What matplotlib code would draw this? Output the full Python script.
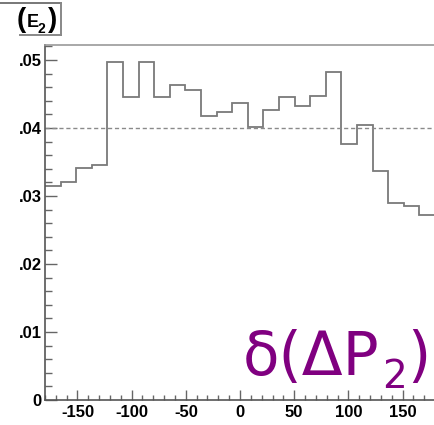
import numpy as np
import matplotlib
matplotlib.use("Agg")
import matplotlib.pyplot as plt
from matplotlib.lines import Line2D
from matplotlib.ticker import MultipleLocator, FuncFormatter

plt.rcParams["axes.unicode_minus"] = False

# Histogram contents: 25 bins spanning -180 .. 180
bin_lo, bin_hi, n_bins = -180.0, 180.0, 25
counts = [0.0314, 0.0320, 0.0341, 0.0345, 0.0497, 0.0445, 0.0497, 0.0446,
          0.0463, 0.0456, 0.0418, 0.0423, 0.0437, 0.0402, 0.0427, 0.0445,
          0.0433, 0.0447, 0.0482, 0.0376, 0.0405, 0.0336, 0.0290, 0.0285,
          0.0272]
reference_level = 0.04
y_ticks = [0.0, 0.01, 0.02, 0.03, 0.04, 0.05]
x_ticks = [-150, -100, -50, 0, 50, 100, 150]

W, H = 435, 425
fig = plt.figure(figsize=(W / 100, H / 100), dpi=100)
fig.patch.set_facecolor("white")

# axes frame in pixel units
x0, x1, y_top, y_bot = 45, 435, 45, 400
ax = fig.add_axes([x0 / W, (H - y_bot) / H, (x1 - x0) / W, (y_bot - y_top) / H])

edges = np.linspace(bin_lo, bin_hi, n_bins + 1)
ax.stairs(counts, edges, color="#7a7a7a", linewidth=1.3, baseline=None)
ax.axhline(reference_level, color="#8a8a8a", linewidth=1.0, linestyle=(0, (3, 2)))

ax.set_xlim(bin_lo, bin_hi)
ax.set_ylim(0, 0.0522)

ax.set_yticks(y_ticks)
ax.set_xticks(x_ticks)
ax.yaxis.set_minor_locator(MultipleLocator(0.002))
ax.xaxis.set_minor_locator(MultipleLocator(10))

def fmt_y(v, pos):
    if abs(v) < 1e-12:
        return "0"
    return ("%.2f" % v).lstrip("0")

ax.yaxis.set_major_formatter(FuncFormatter(fmt_y))

for lab in ax.get_xticklabels() + ax.get_yticklabels():
    lab.set_fontfamily("Liberation Sans")
    lab.set_fontweight("bold")
    lab.set_fontsize(12)

ax.tick_params(axis="y", which="major", direction="in", length=8.5, width=1.0,
               color="#666666", pad=2.6, left=True, right=False)
ax.tick_params(axis="y", which="minor", direction="in", length=4.8, width=1.0,
               color="#666666", left=True, right=False)
ax.tick_params(axis="x", which="major", direction="in", length=7.2, width=1.0,
               color="#666666", pad=3.4, bottom=True, top=False)
ax.tick_params(axis="x", which="minor", direction="in", length=3.6, width=1.0,
               color="#666666", bottom=True, top=False)

ax.spines["right"].set_visible(False)
ax.spines["left"].set_color("#555555")
ax.spines["bottom"].set_color("#555555")
ax.spines["top"].set_color("#999999")
for s in ax.spines.values():
    s.set_linewidth(1.2)

def px(x, y):
    return x / W, (H - y) / H

# title box in the upper left corner
for (xa, ya), (xb, yb), c in [((0, 3), (61, 3), "#777777"),
                              ((61, 3), (61, 35), "#888888"),
                              ((20, 35), (61, 35), "#888888")]:
    (fx0, fy0), (fx1, fy1) = px(xa, ya), px(xb, yb)
    fig.add_artist(Line2D([fx0, fx1], [fy0, fy1], color=c, linewidth=1.4,
                          transform=fig.transFigure))

title_parts = [("(", 16.5, 27, 20), ("E", 27, 27, 13), ("2", 38, 33, 10),
               (")", 47.5, 27, 20)]
for txt, xp, yp, fs in title_parts:
    fx, fy = px(xp, yp)
    fig.text(fx, fy, txt, ha="left", va="baseline", fontsize=fs,
             fontweight="bold", family="Liberation Sans")

# purple observable label: main symbol, subscript, closing bracket
label_parts = [("δ(ΔP", 243, 375, 43), ("2", 382, 388, 28), (")", 407, 375, 43)]
for txt, xp, yp, fs in label_parts:
    fx, fy = px(xp, yp)
    fig.text(fx, fy, txt, ha="left", va="baseline", fontsize=fs,
             color="#800080", family="DejaVu Sans")

fig.savefig("out.png", dpi=100, facecolor="white")
